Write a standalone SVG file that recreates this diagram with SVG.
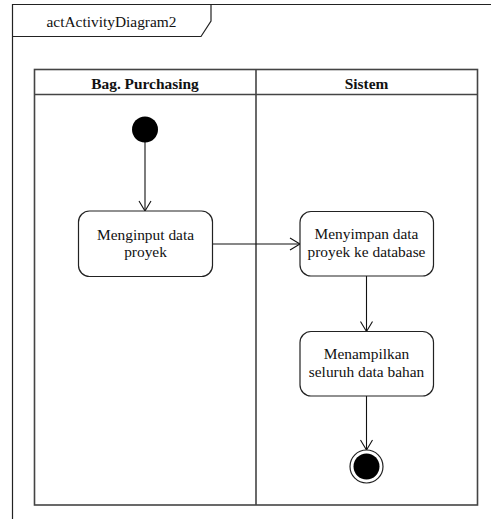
<svg xmlns="http://www.w3.org/2000/svg" width="491" height="519" viewBox="0 0 491 519">
  <style>
    .frame { fill: none; stroke: #222; stroke-width: 1.2; }
    .lane { fill: none; stroke: #444; stroke-width: 1.6; }
    .act { fill: #fff; stroke: #222; stroke-width: 1.2; }
    text { font-family: 'Liberation Serif', 'DejaVu Serif', serif; font-size: 15.4px; fill: #111; text-anchor: middle; }
    .hdr { font-weight: bold; }
    .edge { fill: none; stroke: #111; stroke-width: 1.1; }
  </style>
  <defs>
    <marker id="open" viewBox="0 0 12 14" refX="11" refY="7" markerWidth="12" markerHeight="14" markerUnits="userSpaceOnUse" orient="auto">
      <path d="M1,1 L11,7 L1,13" fill="none" stroke="#111" stroke-width="1.1"/>
    </marker>
  </defs>

  <rect width="491" height="519" fill="#fff"/>

  <!-- diagram frame with name tab -->
  <g id="frame">
    <path class="frame" d="M12.5,519 L12.5,4.5 L491,4.5"/>
    <path class="frame" d="M12.5,36.5 L201,36.5 L211,21 L211,4.5"/>
    <text x="111.5" y="27">actActivityDiagram2</text>
  </g>

  <!-- swimlanes -->
  <g id="lanes">
    <rect class="lane" x="34.5" y="69.5" width="443" height="435.5"/>
    <line class="lane" x1="34.5" y1="94.5" x2="477.5" y2="94.5"/>
    <line class="lane" x1="256" y1="69.5" x2="256" y2="505"/>
    <text class="hdr" x="145" y="88.5">Bag. Purchasing</text>
    <text class="hdr" x="366.5" y="88.5">Sistem</text>
  </g>

  <!-- connectors -->
  <g id="edges">
    <line class="edge" x1="145" y1="142" x2="145" y2="211" marker-end="url(#open)"/>
    <line class="edge" x1="212.5" y1="244" x2="300" y2="244" marker-end="url(#open)"/>
    <line class="edge" x1="366.5" y1="276" x2="366.5" y2="331.5" marker-end="url(#open)"/>
    <line class="edge" x1="366.5" y1="396" x2="366.5" y2="450" marker-end="url(#open)"/>
  </g>

  <!-- nodes -->
  <g id="start">
    <circle cx="145" cy="129.5" r="13" fill="#000"/>
  </g>
  <g id="input">
    <rect class="act" x="78.5" y="211" width="134" height="65.5" rx="11"/>
    <text x="145.5" y="239.5">Menginput data</text>
    <text x="145.5" y="257">proyek</text>
  </g>
  <g id="simpan">
    <rect class="act" x="300" y="211.5" width="133.5" height="64.5" rx="11"/>
    <text x="366.5" y="239">Menyimpan data</text>
    <text x="366.5" y="257">proyek ke database</text>
  </g>
  <g id="tampil">
    <rect class="act" x="300" y="331.5" width="133.5" height="64.5" rx="11"/>
    <text x="366.5" y="359">Menampilkan</text>
    <text x="366.5" y="377">seluruh data bahan</text>
  </g>
  <g id="end">
    <circle cx="366.5" cy="466.5" r="16.5" fill="#fff" stroke="#222" stroke-width="1.2"/>
    <circle cx="366.5" cy="466.5" r="13" fill="#000"/>
  </g>
</svg>
